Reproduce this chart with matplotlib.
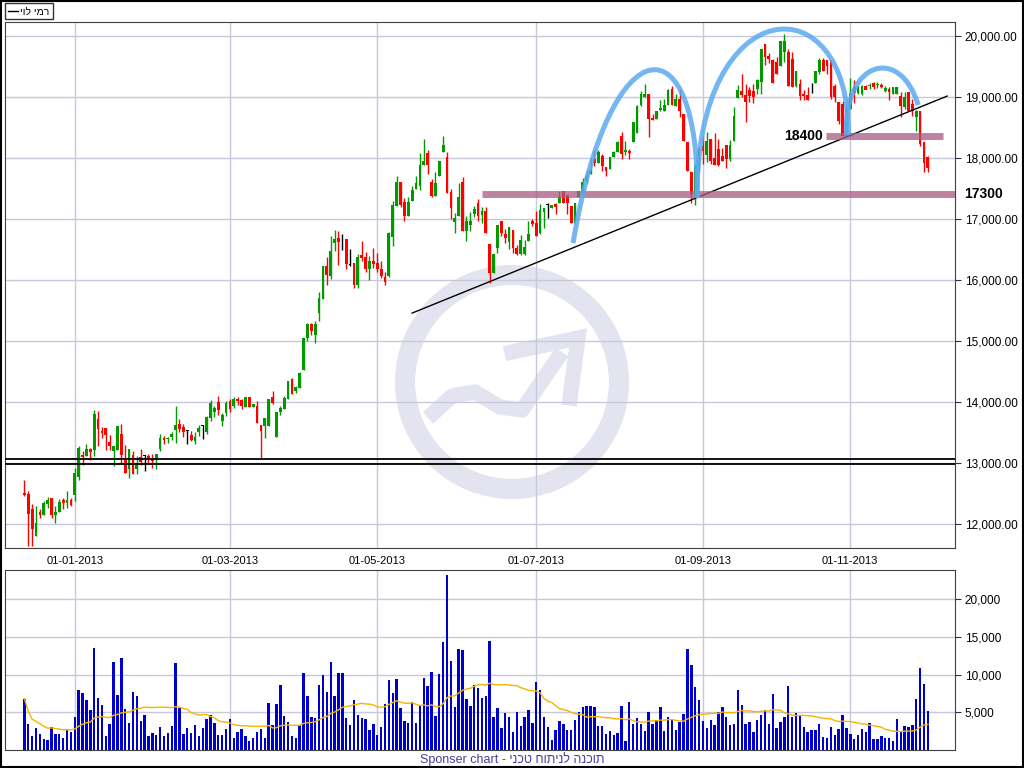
import matplotlib
matplotlib.use("Agg")
import matplotlib.pyplot as plt
import numpy as np
import pandas as pd
from matplotlib.patches import Circle, Rectangle, PathPatch
from matplotlib.path import Path
from matplotlib.ticker import FuncFormatter

plt.rcParams['font.family'] = ['Liberation Sans', 'DejaVu Sans']

# daily candles, Rami Levy (Dec 2012 - Nov 2013)
opens = [12510, 12490, 12250, 11810, 12210, 12160, 12330, 12430, 12150, 12200,
         12400, 12350, 12400, 12480, 12780, 13140, 13120, 13230, 13220, 13720,
         13530, 13580, 13350, 13210, 13220, 13480, 13050, 12910, 13130, 12910,
         13100, 13120, 13120, 13070, 13070, 13240, 13420, 13400, 13430, 13540,
         13650, 13600, 13530, 13470, 13360, 13510, 13620, 13510, 13745, 13844,
         14008, 13695, 13832, 14019, 13942, 14052, 14041, 13926, 14085, 13926,
         13942, 13624, 13613, 13613, 14090, 13432, 13844, 13898, 14063, 14382,
         14184, 14239, 14523, 15062, 15287, 15100, 15460, 15690, 16230, 16070,
         16610, 16700, 16720, 16680, 16260, 16290, 15920, 16420, 16380, 16180,
         16320, 16290, 16180, 16050, 16070, 16710, 17220, 17610, 17280, 17050,
         17300, 17500, 17550, 17890, 18090, 17610, 17380, 17710, 18100, 18030,
         17450, 16950, 17050, 17610, 16810, 16900, 17090, 17270, 17070, 17140,
         16600, 16120, 16530, 16970, 16760, 16630, 16830, 16530, 16440, 16440,
         16650, 16970, 16940, 16770, 17120, 17230, 17180, 17250, 17260, 17470,
         17400, 17220, 16940, 17360, 17440, 17630, 17740, 17990, 17930, 18040,
         17860, 17830, 18030, 18100, 18370, 18100, 18120, 18260, 18410, 18880,
         19010, 19060, 18660, 18650, 18790, 18770, 18880, 19140, 18860, 18970,
         18730, 18260, 17770, 17370, 17880, 18210, 18060, 18320, 18000, 18150,
         18040, 18220, 17990, 18290, 18990, 19100, 19040, 19120, 19110, 19140,
         19250, 19880, 19670, 19610, 19580, 19520, 19740, 19740, 19630, 19190,
         19220, 19050, 19040, 19080, 19240, 19410, 19610, 19610, 19610, 19190,
         18920, 18890, 18400, 18810, 19170, 19070, 19060, 19190, 19180, 19230,
         19200, 19210, 19110, 19140, 19060, 19060, 19030, 18840, 19080, 18890,
         18670, 18770, 18260, 18030]

closes = [12480, 12170, 11920, 12030, 12160, 12350, 12400, 12150, 12210, 12360,
          12350, 12400, 12320, 12840, 13250, 13100, 13230, 13190, 13810, 13570,
          13490, 13470, 13280, 13280, 13610, 13140, 12850, 13240, 12830, 12970,
          13030, 13120, 13090, 13040, 13150, 13420, 13390, 13420, 13480, 13630,
          13570, 13520, 13530, 13380, 13440, 13580, 13620, 13760, 13997, 13909,
          13871, 13799, 13986, 13898, 14052, 14025, 13942, 14085, 13926, 13980,
          13667, 13536, 13750, 14052, 13997, 13844, 13909, 14074, 14349, 14145,
          14255, 14485, 15062, 15287, 15172, 15287, 15710, 16230, 16080, 16480,
          16680, 16630, 16720, 16270, 16260, 15920, 16390, 16370, 16180, 16320,
          16270, 16190, 16070, 15980, 16780, 17240, 17610, 17230, 17050, 17280,
          17480, 17590, 17890, 17950, 17890, 17380, 17600, 17960, 18220, 17440,
          17180, 17020, 17370, 16810, 16970, 16980, 17170, 17050, 17140, 16780,
          16120, 16430, 16900, 16780, 16690, 16880, 16530, 16440, 16660, 16550,
          16760, 16920, 16720, 17150, 17180, 17230, 17240, 17200, 17370, 17270,
          17270, 16940, 17260, 17470, 17610, 17710, 17810, 17930, 18100, 17880,
          17800, 18030, 18100, 18260, 18070, 18130, 18080, 18590, 18860, 19060,
          19060, 18650, 18630, 18770, 18820, 18880, 19120, 18880, 18970, 18780,
          18290, 17790, 17420, 17890, 18150, 18120, 18290, 17960, 17890, 17890,
          17960, 17990, 18220, 18700, 19120, 19040, 18930, 19030, 19010, 19280,
          19800, 19660, 19630, 19230, 19390, 19930, 19930, 19190, 19170, 19440,
          19030, 19020, 18950, 19080, 19440, 19610, 19440, 19520, 19000, 19000,
          18620, 18370, 18830, 19070, 19070, 19180, 19180, 19120, 19200, 19170,
          19220, 19170, 19160, 19090, 19170, 19170, 18860, 19000, 18780, 18780,
          18780, 18230, 17930, 17850]

highs = [12730, 12550, 12330, 12300, 12260, 12380, 12450, 12430, 12300, 12410,
         12440, 12540, 12440, 12930, 13280, 13210, 13310, 13260, 13880, 13860,
         13600, 13580, 13470, 13280, 13610, 13650, 13300, 13240, 13210, 13120,
         13230, 13140, 13160, 13160, 13160, 13480, 13450, 13440, 13520, 13940,
         13720, 13650, 13540, 13530, 13520, 13630, 13630, 13780, 14040, 13940,
         14100, 13830, 14020, 14060, 14080, 14090, 14060, 14085, 14085, 13980,
         14020, 13624, 13750, 14060, 14190, 13844, 13940, 14100, 14349, 14400,
         14270, 14500, 15062, 15300, 15300, 15330, 15810, 16230, 16380, 16730,
         16830, 16810, 16760, 16680, 16520, 16290, 16430, 16640, 16460, 16400,
         16530, 16450, 16310, 16140, 16790, 17300, 17710, 17620, 17350, 17360,
         17550, 17710, 18090, 18320, 18130, 17660, 17770, 17960, 18370, 18100,
         17490, 17100, 17600, 17700, 17060, 17120, 17220, 17340, 17200, 17200,
         16600, 16430, 16900, 16970, 16850, 16880, 16830, 16580, 16750, 16660,
         16970, 17000, 17130, 17250, 17180, 17270, 17240, 17260, 17470, 17470,
         17400, 17220, 17260, 17470, 17680, 17800, 18000, 18130, 18130, 18070,
         17860, 18030, 18120, 18280, 18430, 18280, 18150, 18600, 18870, 19110,
         19220, 19060, 18720, 18770, 18950, 18980, 19140, 19180, 19050, 19130,
         18730, 18260, 17770, 17900, 18190, 18370, 18440, 18320, 18420, 18320,
         18170, 18220, 18300, 18840, 19200, 19390, 19220, 19170, 19220, 19300,
         19800, 19880, 19720, 19630, 19660, 19930, 20040, 19800, 19740, 19440,
         19300, 19120, 19170, 19230, 19440, 19640, 19640, 19610, 19610, 19220,
         18920, 18940, 18840, 19310, 19280, 19180, 19200, 19210, 19240, 19250,
         19250, 19230, 19180, 19170, 19170, 19170, 19090, 19090, 19090, 18970,
         18800, 18770, 18260, 18040]

lows = [12470, 11650, 11650, 11810, 12110, 12160, 12270, 12110, 12020, 12200,
        12250, 12270, 12300, 12380, 12730, 12970, 13120, 13060, 13120, 13290,
        13420, 13220, 13220, 12950, 13220, 13000, 12850, 12760, 12830, 12830,
        12970, 12880, 12990, 12930, 12900, 13210, 13320, 13340, 13380, 13330,
        13520, 13430, 13320, 13370, 13310, 13450, 13400, 13480, 13700, 13760,
        13800, 13620, 13780, 13850, 13900, 13950, 13890, 13926, 13926, 13926,
        13660, 13091, 13420, 13613, 13980, 13432, 13800, 13898, 14063, 14130,
        14160, 14230, 14523, 15000, 15100, 14970, 15330, 15690, 15930, 16030,
        16480, 16260, 16490, 16190, 16230, 15880, 15880, 16320, 16140, 16010,
        16200, 16140, 16040, 15920, 16050, 16570, 17220, 17200, 16970, 17050,
        17300, 17490, 17480, 17890, 17740, 17360, 17380, 17710, 18100, 17440,
        17000, 16770, 17050, 16810, 16640, 16810, 17040, 16970, 16940, 16780,
        15960, 16120, 16450, 16720, 16620, 16510, 16450, 16420, 16420, 16420,
        16650, 16890, 16720, 16760, 16860, 17030, 17180, 17090, 17260, 17270,
        17090, 16940, 16940, 17360, 17440, 17600, 17740, 17880, 17930, 17790,
        17710, 17830, 18030, 18100, 17990, 18050, 17990, 18260, 18410, 18860,
        19010, 18350, 18630, 18650, 18780, 18770, 18880, 18880, 18860, 18670,
        18290, 17790, 17270, 17240, 17800, 17910, 17940, 17900, 17890, 17880,
        17960, 17850, 17960, 18290, 18990, 19010, 18590, 18930, 18900, 19060,
        19060, 19530, 19570, 19230, 19390, 19520, 19580, 19180, 19170, 19170,
        18960, 18960, 18950, 19070, 19240, 19390, 19440, 19390, 18970, 18920,
        18560, 18370, 18370, 18810, 18900, 19060, 19040, 19130, 19130, 19130,
        19150, 19160, 19080, 18960, 19060, 19060, 18670, 18810, 18780, 18700,
        18450, 18210, 17770, 17770]

volumes = [6810, 3510, 1920, 2980, 2180, 1520, 1390, 3110, 2180, 2180,
           1650, 2840, 2450, 4430, 8000, 7610, 6680, 5360, 13560, 6950,
           6020, 1920, 3510, 11710, 7340, 12240, 5490, 3640, 7740, 7210,
           3900, 4700, 1920, 2320, 2050, 3110, 1920, 2320, 3240, 11580,
           5620, 2180, 2980, 2320, 3370, 1920, 2980, 4170, 4700, 3640,
           2050, 2050, 2840, 4170, 1650, 2450, 2840, 1920, 1260, 1650,
           2450, 2840, 1650, 6280, 3370, 6150, 8670, 4560, 3770, 1920,
           1650, 3370, 10250, 7210, 4430, 4300, 8670, 9990, 7740, 11710,
           7210, 10250, 10250, 4300, 3370, 6680, 4700, 4300, 4170, 2710,
           3510, 2050, 3110, 6150, 9330, 7610, 9460, 5620, 3900, 3640,
           6420, 3640, 6020, 9590, 8530, 10390, 4560, 10120, 14360, 23220,
           11840, 5760, 13430, 13300, 6810, 5890, 8670, 8270, 6950, 7210,
           14490, 4430, 5620, 2980, 4960, 4430, 2450, 5090, 3240, 4430,
           5360, 3640, 9060, 8000, 4430, 3110, 1390, 2710, 3900, 3510,
           2710, 2710, 4040, 5090, 5760, 5890, 5890, 5760, 3240, 3240,
           2180, 2580, 2050, 2320, 5890, 1130, 6420, 3510, 4300, 3510,
           2580, 5090, 3510, 4040, 5760, 2580, 4430, 4170, 2710, 3770,
           4830, 13430, 11310, 8400, 6680, 3900, 2980, 4040, 3370, 5090,
           5760, 4430, 3370, 3510, 8000, 6020, 3510, 3770, 2450, 4040,
           4700, 5360, 3510, 7480, 2980, 3770, 4430, 8530, 4430, 4960,
           4560, 3110, 2450, 2710, 2710, 3510, 1790, 1650, 3110, 2050,
           2840, 4700, 2980, 2180, 1520, 2050, 2840, 2450, 3640, 1520,
           1520, 1920, 1650, 1650, 1130, 4170, 2580, 3240, 3110, 3370,
           6810, 10920, 8800, 5230]

date_pos = [13, 53, 91, 132, 175, 213]
date_labels = ['01-01-2013', '01-03-2013', '01-05-2013', '01-07-2013', '01-09-2013', '01-11-2013']

legend_name = 'רמי לוי'
footer_heb = 'תוכנה לניתוח טכני'

n = len(closes)
x = np.arange(n)
o = np.array(opens)
c = np.array(closes)

fig = plt.figure(figsize=(10.24, 7.68), dpi=100)

# background layer in pixel coordinates (frame, watermark, texts)
bg = fig.add_axes([0, 0, 1, 1], zorder=-5)
bg.set_xlim(0, 1024)
bg.set_ylim(768, 0)
bg.axis('off')

wm = '#e4e4f0'
bg.add_patch(Circle((512, 382), 107, fill=False, lw=14.5, edgecolor=wm))
bg.plot([428, 452, 475, 500, 522, 562], [418, 396, 392, 407, 410, 352],
        color=wm, lw=11, solid_joinstyle='round', solid_capstyle='butt')
bg.plot([512, 578, 570], [352, 338, 398], color=wm, lw=11, solid_joinstyle='miter')

bg.add_patch(Rectangle((0.5, 0.5), 1022.5, 766.5, fill=False, edgecolor='black', lw=1.5))
bg.add_patch(Rectangle((5, 3), 48, 16, fill=False, edgecolor='#333333', lw=1))
bg.plot([8, 18], [11, 11], color='black', lw=1)
# matplotlib has no bidi, so the Hebrew is reversed for display
bg.text(20, 11.5, legend_name[::-1], fontsize=7.5, va='center', ha='left')
bg.text(512, 759, 'Sponser chart - ' + footer_heb[::-1], fontsize=9,
        color='#4b3c9b', ha='center', va='center')
bg.text(964, 194, '17300', fontsize=10, fontweight='bold', va='center', ha='left')
bg.text(823, 136, '18400', fontsize=10, fontweight='bold', va='center', ha='right')

# price panel
ax = fig.add_axes([5 / 1024, 1 - 548 / 768, 950 / 1024, 526 / 768])
ax.set_facecolor('none')
ax.set_xlim(-5, 240)
ax.set_ylim(11613, 20235)

colors = ['#009900' if b > a else '#ff0000' if b < a else 'black' for a, b in zip(opens, closes)]
ax.vlines(x, lows, highs, colors=colors, lw=1, zorder=3)
ax.bar(x, np.maximum(np.abs(c - o), 15), 0.72, bottom=np.minimum(o, c),
       color=colors, lw=0, zorder=3)

ax.axhline(13080, color='black', lw=1.3, zorder=4)
ax.axhline(12990, color='black', lw=1.3, zorder=4)
ax.plot([100, 238], [15464, 19021], color='black', lw=1, zorder=4)
ax.hlines(17410, 118, 240, color='#a85a80', lw=5, alpha=0.75, zorder=4)
ax.hlines(18360, 206.7, 236.8, color='#a85a80', lw=5, alpha=0.75, zorder=4)

arc_col = '#5aaaf0'
arcs = [
    [(141.5, 16612), (151.1, 20267), (174.3, 20267), (173.5, 17349)],
    [(173.5, 17349), (173.0, 20760), (213.0, 20924), (212.5, 18382)],
    [(212.0, 18382), (211.2, 19611), (225.9, 19857), (230.5, 18874)],
]
for pts in arcs:
    p = Path(pts, [Path.MOVETO, Path.CURVE4, Path.CURVE4, Path.CURVE4])
    ax.add_patch(PathPatch(p, fill=False, edgecolor=arc_col, lw=3.6, alpha=0.85, zorder=5))

ax.yaxis.tick_right()
ax.set_yticks(np.arange(12000, 20001, 1000))
ax.yaxis.set_major_formatter(FuncFormatter(lambda v, p: f'{v:,.2f}'))
ax.set_xticks(date_pos)
ax.set_xticklabels(date_labels)
ax.tick_params(axis='x', length=0, pad=6, labelsize=8)
ax.tick_params(axis='y', length=4, pad=3, labelsize=8.5, color='#333333')
ax.grid(True, color='#c8c8dc', lw=1)
ax.set_axisbelow(True)
for s in ax.spines.values():
    s.set_color('#404040')

# volume panel
vax = fig.add_axes([5 / 1024, 1 - 750 / 768, 950 / 1024, 180 / 768])
vax.set_facecolor('none')
vax.set_xlim(-5, 240)
vax.set_ylim(0, 23900)
vax.bar(x, volumes, 0.62, color='#0000cc', lw=0, zorder=3)
ma = pd.Series(volumes).rolling(25, min_periods=1).mean()
vax.plot(x, ma, color='#f5b400', lw=1, zorder=4)
vax.yaxis.tick_right()
vax.set_yticks([5000, 10000, 15000, 20000])
vax.yaxis.set_major_formatter(FuncFormatter(lambda v, p: f'{v:,.0f}'))
vax.set_xticks(date_pos)
vax.set_xticklabels([])
vax.tick_params(axis='x', length=0)
vax.tick_params(axis='y', length=4, pad=3, labelsize=8.5, color='#333333')
vax.grid(True, color='#c8c8dc', lw=1)
vax.set_axisbelow(True)
for s in vax.spines.values():
    s.set_color('#404040')

fig.savefig('out.png', dpi=100)
